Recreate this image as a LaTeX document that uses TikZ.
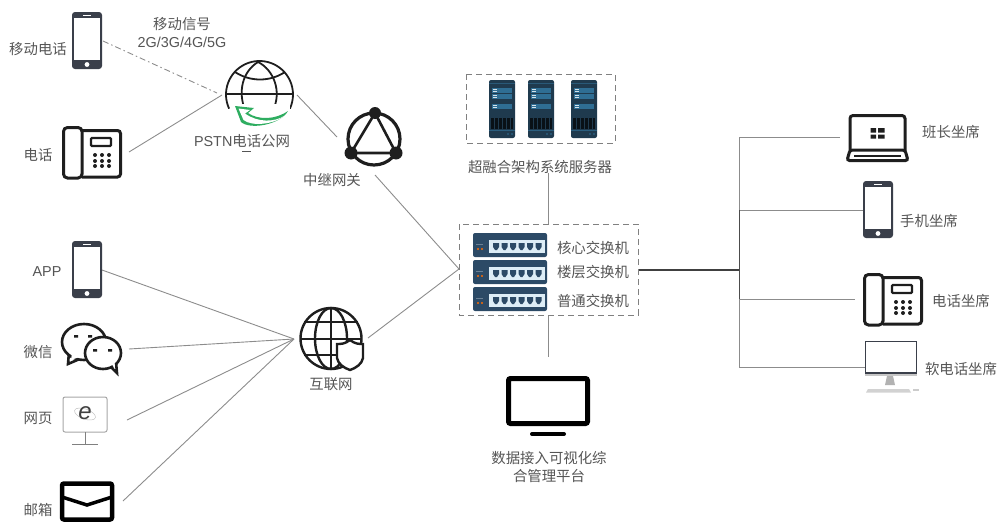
\documentclass[tikz,border=0pt]{standalone}
\usepackage{fontspec}
\setmainfont{Noto Sans CJK SC}
\newfontfamily\lat{Liberation Sans}
\definecolor{txt}{HTML}{555555}
\definecolor{icon}{HTML}{1E1E1E}
\definecolor{ink}{HTML}{3A3F4A}
\definecolor{wire}{HTML}{8C8C8C}
\definecolor{srv}{HTML}{1F3A4E}
\definecolor{srvb}{HTML}{2F6E94}
\definecolor{sw}{HTML}{2C4A66}
\definecolor{swp}{HTML}{DDEDF6}
\definecolor{grn}{HTML}{2EAD60}
\tikzset{
  lbl/.style={text=txt,font=\fontsize{14.4}{17}\selectfont,inner sep=0pt,align=center},
  wireline/.style={draw=wire,line width=0.9pt},
  dashbox/.style={draw=gray,line width=1pt,dash pattern=on 6pt off 4pt},
  pics/smartphone/.style={code={
    \fill[ink,rounded corners=3pt] (0,0) rectangle (30,57);
    \fill[white] (2,6) rectangle (28,48);
    \fill[white] (15,52.5) circle (2.4);
    \draw[white,line width=.5pt] (11,3) -- (19,3);
  }},
  pics/deskphone/.style={code={
    \draw[icon,line width=3pt,rounded corners=3pt] (20,4.5) -- (58.5,4.5) -- (58.5,51) -- (20,51);
    \draw[icon,line width=3pt,rounded corners=4pt] (1.5,1.5) rectangle (20,52);
    \draw[icon,line width=2.4pt,rounded corners=1pt] (29,12) rectangle (49,20);
    \foreach \dx in {33,40,47} \foreach \dy in {29,35,40}
      \fill[icon] (\dx,\dy) circle (2);
  }},
  pics/serverrack/.style={code={
    \fill[srv,rounded corners=2pt] (0,0) rectangle (26,58);
    \fill[srvb!60!srv] (0,3) rectangle (26,4);
    \foreach \dy in {8,14,24} {
      \fill[srvb] (3,\dy) rectangle (23,\dy+5);
      \fill[white!80!srvb] (4,\dy+1) rectangle (8,\dy+2);
      \fill[white!80!srvb] (4,\dy+3) rectangle (8,\dy+4);
    }
    \fill[black!70!srv] (2,38) rectangle (24,49);
    \foreach \dx in {5,9,...,21} \draw[srv,line width=.5pt] (\dx,38) -- (\dx,49);
    \fill[srvb!70!srv] (0,50) rectangle (26,51);
    \fill[srvb] (19,54) circle (.9) (23,54) circle (.9);
  }},
  pics/switchunit/.style={code={
    \fill[sw,rounded corners=2pt] (0,0) rectangle (74,24);
    \fill[swp] (16,7) rectangle (72,20);
    \foreach \dx in {20,28.5,...,63} {
      \fill[sw] (\dx,10) -- (\dx+6,10) -- (\dx+6,14) -- (\dx+4,17) -- (\dx+2,17) -- (\dx,14) -- cycle;
    }
    \fill[orange!85!red] (5,16) circle (1.1) (9,16) circle (1.1);
    \fill[white!30!sw] (3,11) rectangle (10,11.6);
  }},
}
\begin{document}
\begin{tikzpicture}[x=1pt,y=-1pt]
\useasboundingbox (0,0) rectangle (1000,522);
% ---- connector ends
\coordinate (mobR) at (103,41);
\coordinate (pstnA) at (217,93);
\coordinate (telR) at (129,152);
\coordinate (pstnB) at (222,95);
\coordinate (pstnR) at (297,95);
\coordinate (relayL) at (337,137);
\coordinate (relayB) at (375,175);
\coordinate (swL) at (459,269);
\coordinate (appR) at (102,270);
\coordinate (wxR) at (129,349);
\coordinate (webR) at (127,420);
\coordinate (mailR) at (123,501);
\coordinate (netL) at (294,339);
\coordinate (netR) at (368,338);
\coordinate (srvB) at (548,173);
\coordinate (swT) at (548,224);
\coordinate (swB) at (548,316);
\coordinate (tvT) at (548,357);
\coordinate (swR) at (638,270);
\coordinate (tr) at (739.5,270);
\coordinate (trA) at (739.5,137);
\coordinate (trB) at (739.5,210);
\coordinate (trC) at (739.5,299);
\coordinate (trD) at (739.5,367);
\coordinate (lap) at (840,137);
\coordinate (ph2) at (863,210);
\coordinate (dk2) at (855,299);
\coordinate (pc2) at (866,367);
% ---- connectors
\draw[wire,line width=.9pt,dash pattern=on 6pt off 3pt on 1.5pt off 3pt] (mobR) -- (pstnA);
\foreach \a/\b in {telR/pstnB,pstnR/relayL,relayB/swL,appR/netL,wxR/netL,webR/netL,mailR/netL,netR/swL,srvB/swT,swB/tvT}
  \draw[wireline] (\a) -- (\b);
\draw[wireline] (lap) -- (trA) -- (trD) -- (pc2);
\draw[wireline] (trB) -- (ph2);
\draw[wireline] (trC) -- (dk2);
\draw[draw=black!75,line width=1.5pt] (swR) -- (tr);
\draw[draw=black!70,line width=1.2pt] (trB) -- (trC);
% ---- left top
\pic at (72,12) {smartphone};
\node[lbl] (tMob) at (38,49) {移动电话};
\node[lbl] (tSig) at (182,33) {移动信号\\[1pt]{\lat 2G/3G/4G/5G}};
\pic at (62,126) {deskphone};
\node[lbl] (tTel) at (38,155) {电话};
% PSTN globe
\begin{scope}[draw=icon,line width=1.8pt]
  \draw (259.5,94.5) ++(155:33.5) arc[start angle=155,end angle=385,radius=33.5];
  \draw (226,94) -- (293,94);
  \draw (258,62) .. controls (242,72) and (238,92) .. (245,110);
  \draw (258,62) .. controls (274,70) and (282,92) .. (273,110);
  \draw (235,72) .. controls (250,82) and (270,82) .. (285,72);
\end{scope}
\fill[white] (236,104) rectangle (290,130);
\fill[grn] (288,111) .. controls (280,125) and (250,130) .. (241,122) -- (235,106) -- (254,108) -- (248,113) .. controls (258,120) and (275,120) .. (288,111) -- cycle;
\fill[white] (284,116) .. controls (275,124) and (252,127) .. (243.5,120) -- (238.5,108.5) -- (250,110) -- (245,113.5) .. controls (258,123) and (275,122) .. (284,116) -- cycle;
\node[lbl] (tPstn) at (242,141) {{\lat PSTN}电话公网};
\draw[txt,line width=.6pt] (242,151) -- (251,151);
% relay
\draw[icon,line width=3.2pt] (374,139) circle (26);
\draw[icon,line width=2.6pt] (375,113) -- (351,153) -- (396,153) -- cycle;
\fill[icon] (375,113) circle (6) (351,153) circle (6.5) (396,153) circle (6.5);
\node[lbl] (tRelay) at (332,180) {中继网关};
% ---- left bottom
\pic at (72,241) {smartphone};
\node[lbl] (tApp) at (47,272) {\lat APP};
% wechat
\begin{scope}[draw=icon,line width=2.6pt,fill=white]
  \filldraw (69,352) -- (68,364) -- (82,358) -- cycle;
  \filldraw (84,342) ellipse (22 and 18);
  \fill[white] (72,353) -- (71,360) -- (82,356) -- (80,350) -- cycle;
  \filldraw (110,366) -- (117,373) -- (116,362) -- cycle;
  \filldraw (103,353) ellipse (18 and 16);
  \fill[white] (111,363) -- (115,369) -- (114.5,360) -- cycle;
\end{scope}
\fill[icon] (74,335) rectangle (78,337.5) (88,335) rectangle (92,337.5) (93,349) rectangle (97,351.5) (108,349) rectangle (112,351.5);
\node[lbl] (tWx) at (38,352) {微信};
% web monitor
\draw[gray!70,line width=1pt,rounded corners=2pt] (63,397) rectangle (107,432);
\draw[gray,line width=1pt] (85,432) -- (85,444);
\draw[gray,line width=1pt] (72,444) -- (98,444);
\draw[gray!50,line width=.5pt,rotate around={-20:(85,414)}] (85,414) ellipse (11 and 5);
\node[text=black!75,inner sep=0pt,font=\lat\itshape\fontsize{24}{24}\selectfont] (eIcon) at (85,413) {e};
\node[lbl] (tWeb) at (38,418) {网页};
% mail
\draw[black,line width=4.5pt,rounded corners=2pt] (62,483.5) rectangle (112,519.5);
\draw[black,line width=3.5pt] (62,497) -- (87,505) -- (112,497);
\node[lbl] (tMail) at (38,510) {邮箱};
% internet globe
\begin{scope}[draw=icon,line width=2.4pt]
  \draw (331,338.5) circle (30.5);
  \draw (331,308) -- (331,369);
  \draw (331,338.5) ellipse (16 and 30.5);
  \draw (304,322) -- (358,322);
  \draw (301,339) -- (361,339);
  \draw (304,355) -- (358,355);
  \filldraw[fill=white] (350,340) .. controls (355,344) and (359,344) .. (363,344) -- (363,358) .. controls (362,364) and (356,368) .. (350,370) .. controls (344,368) and (338,364) .. (337,358) -- (337,344) .. controls (341,344) and (345,344) .. (350,340) -- cycle;
\end{scope}
\node[lbl] (tNet) at (331,384) {互联网};
% ---- centre
\draw[dashbox] (466,74) rectangle (615,143);
\pic at (489,80) {serverrack};
\pic at (528,80) {serverrack};
\pic at (571,80) {serverrack};
\node[lbl] (tSrv) at (540,167) {超融合架构系统服务器};
\draw[dashbox] (459,224) rectangle (638,315);
\pic at (473,233) {switchunit};
\pic at (473,260) {switchunit};
\pic at (473,287) {switchunit};
\node[lbl] (tS1) at (593,248) {核心交换机};
\node[lbl] (tS2) at (593,272) {楼层交换机};
\node[lbl] (tS3) at (593,301) {普通交换机};
\draw[black,line width=5pt,rounded corners=2pt] (508.5,378.5) rectangle (587.5,423.5);
\draw[black,line width=4pt,line cap=round] (532,434) -- (564,434);
\node[lbl] (tTv) at (549,467) {数据接入可视化综\\[1pt]合管理平台};
% ---- right
\draw[icon,line width=3pt,rounded corners=3pt] (850,151) -- (850,115.5) -- (905,115.5) -- (905,151);
\draw[icon,line width=3pt,rounded corners=2.5pt] (850,150) -- (905,150) -- (908,160.5) -- (847,160.5) -- cycle;
\draw[icon,line width=2pt] (854,155.5) -- (901,155.5);
\fill[icon] (870.5,128) rectangle (876,132.5) (878,128) rectangle (884.5,132.5) (870.5,134.5) rectangle (876,138.5) (878,134.5) rectangle (884.5,138.5);
\node[lbl] (tA) at (951,132) {班长坐席};
\pic at (863,181) {smartphone};
\node[lbl] (tB) at (929,221) {手机坐席};
\pic at (863,273) {deskphone};
\node[lbl] (tC) at (961,301) {电话坐席};
\fill[gray!45] (865,341) rectangle (917,376);
\filldraw[draw=ink,line width=1.2pt,fill=white] (865.5,341.5) rectangle (916.5,373);
\fill[gray!60] (887,376) -- (893,376) -- (895,385) -- (885,385) -- cycle;
\fill[gray!35] (868,389) -- (909,389) -- (911,392.5) -- (866,392.5) -- cycle;
\fill[gray!40] (913,389) rectangle (919,391);
\node[lbl] (tD) at (961,369) {软电话坐席};
\end{tikzpicture}
\end{document}
